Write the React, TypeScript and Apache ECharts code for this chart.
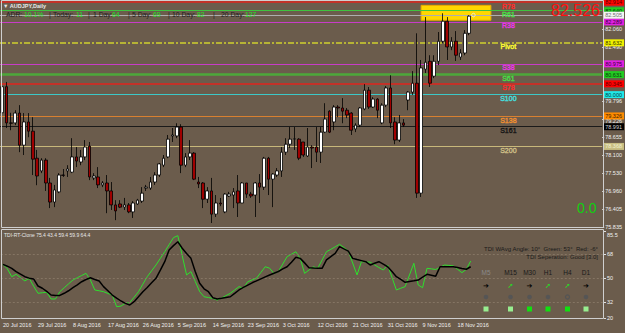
import React, { useEffect, useRef } from "react";
import * as echarts from "echarts";

const dates = [
  "20 Jul 2016","21 Jul 2016","22 Jul 2016","24 Jul 2016","25 Jul 2016","26 Jul 2016","27 Jul 2016","28 Jul 2016","29 Jul 2016","31 Jul 2016",
  "1 Aug 2016","2 Aug 2016","3 Aug 2016","4 Aug 2016","5 Aug 2016","7 Aug 2016","8 Aug 2016","9 Aug 2016","10 Aug 2016","11 Aug 2016",
  "12 Aug 2016","14 Aug 2016","15 Aug 2016","16 Aug 2016","17 Aug 2016","18 Aug 2016","19 Aug 2016","21 Aug 2016","22 Aug 2016","23 Aug 2016",
  "24 Aug 2016","25 Aug 2016","26 Aug 2016","28 Aug 2016","29 Aug 2016","30 Aug 2016","31 Aug 2016","1 Sep 2016","2 Sep 2016","4 Sep 2016",
  "5 Sep 2016","6 Sep 2016","7 Sep 2016","8 Sep 2016","9 Sep 2016","11 Sep 2016","12 Sep 2016","13 Sep 2016","14 Sep 2016","15 Sep 2016",
  "16 Sep 2016","18 Sep 2016","19 Sep 2016","20 Sep 2016","21 Sep 2016","22 Sep 2016","23 Sep 2016","25 Sep 2016","26 Sep 2016","27 Sep 2016",
  "28 Sep 2016","29 Sep 2016","30 Sep 2016","2 Oct 2016","3 Oct 2016","4 Oct 2016","5 Oct 2016","6 Oct 2016","7 Oct 2016","9 Oct 2016",
  "10 Oct 2016","11 Oct 2016","12 Oct 2016","13 Oct 2016","14 Oct 2016","16 Oct 2016","17 Oct 2016","18 Oct 2016","19 Oct 2016","20 Oct 2016",
  "21 Oct 2016","23 Oct 2016","24 Oct 2016","25 Oct 2016","26 Oct 2016","27 Oct 2016","28 Oct 2016","30 Oct 2016","31 Oct 2016","1 Nov 2016",
  "2 Nov 2016","3 Nov 2016","4 Nov 2016","6 Nov 2016","7 Nov 2016","8 Nov 2016","9 Nov 2016","10 Nov 2016","11 Nov 2016","13 Nov 2016",
  "14 Nov 2016","15 Nov 2016","16 Nov 2016","17 Nov 2016","18 Nov 2016","20 Nov 2016","21 Nov 2016","22 Nov 2016",
];

const opens = [
  79.43,80.25,79.11,79.11,79.42,78.41,79.14,78.85,78.00,77.60,
  77.94,77.22,76.62,76.94,77.47,77.60,77.56,78.04,77.88,78.04,
  78.38,77.38,77.41,77.16,77.22,76.97,76.53,76.56,76.46,76.53,
  76.31,76.56,76.65,77.06,77.06,77.25,77.47,77.78,78.04,78.70,
  78.70,78.98,77.78,78.04,78.16,77.25,77.22,76.71,76.97,76.24,
  76.59,76.31,76.81,76.84,76.97,76.59,77.22,76.87,76.84,77.22,
  77.09,78.00,77.34,77.47,77.60,78.19,78.44,78.60,78.60,78.51,
  78.07,78.35,78.35,78.19,78.82,79.48,79.14,79.61,79.58,79.51,
  79.42,78.92,79.04,79.55,80.14,79.61,79.86,79.11,79.67,80.21,
  79.14,78.57,79.11,79.83,80.08,80.36,76.90,80.80,81.05,80.58,
  81.05,81.68,82.31,81.50,81.68,81.18,81.31,81.93,
];
const closes = [
  80.25,79.11,79.10,79.42,78.41,79.14,78.85,77.97,77.44,77.94,
  77.22,76.62,77.00,77.47,77.46,77.66,78.04,77.91,78.04,78.35,
  77.41,77.44,77.16,77.22,76.97,76.53,76.34,76.46,76.53,76.31,
  76.59,76.68,76.90,77.09,77.25,77.47,77.82,78.00,78.60,78.73,
  78.98,77.78,78.04,78.16,77.34,77.19,76.71,76.97,76.24,76.59,
  76.56,76.87,76.87,76.94,76.59,77.22,76.87,76.81,77.22,77.09,
  78.00,77.34,77.50,77.60,78.19,78.44,78.60,78.61,78.00,78.10,
  78.35,78.32,78.19,78.82,79.23,78.82,79.61,79.58,79.48,79.36,
  78.88,79.04,79.58,80.14,79.61,79.86,79.51,79.67,80.21,79.11,
  78.57,79.11,79.04,80.08,80.36,76.90,80.84,81.02,80.36,81.05,
  81.68,82.31,81.50,81.68,81.24,81.31,81.93,82.47,
];
const lows = [
  79.40,78.95,78.88,79.04,78.19,78.10,78.66,77.47,77.15,77.53,
  76.97,76.43,76.46,76.90,77.41,77.41,77.53,77.72,77.78,77.94,
  77.31,77.31,77.06,77.09,76.27,76.37,76.05,76.43,76.37,76.27,
  76.12,76.53,76.59,76.97,77.00,77.16,77.41,77.72,78.00,78.51,
  78.63,77.53,77.72,77.94,77.31,77.06,76.43,76.59,75.96,76.15,
  76.49,76.27,76.78,76.43,76.15,76.59,76.75,76.75,76.15,76.59,
  77.00,76.84,76.46,77.41,77.41,78.10,78.32,78.26,77.94,78.04,
  78.04,77.69,77.88,77.85,78.79,78.79,78.88,79.29,79.10,79.26,
  78.73,78.82,78.98,79.51,79.55,79.58,79.26,79.07,79.61,78.95,
  78.44,78.51,78.98,79.51,79.99,76.75,76.78,80.68,80.24,80.52,
  80.93,81.62,81.09,81.40,81.06,81.09,81.24,81.87,
];
const highs = [
  80.30,80.40,79.43,79.51,79.67,79.42,79.42,79.29,78.26,78.00,
  78.00,77.38,77.16,77.53,77.66,77.78,78.63,78.35,78.26,78.57,
  78.51,77.53,77.72,77.28,77.47,77.25,76.68,76.68,76.75,76.59,
  76.65,76.72,77.09,77.16,77.41,77.56,77.85,78.10,78.73,78.95,
  79.10,79.07,78.16,78.57,78.19,77.41,77.25,77.09,77.38,76.84,
  76.75,76.90,76.94,77.06,77.47,77.25,77.22,76.94,77.25,77.50,
  78.04,78.04,77.53,77.69,78.35,78.63,78.98,78.98,78.63,78.51,
  78.95,78.41,78.98,78.98,79.73,79.51,79.67,79.67,79.89,79.58,
  79.45,79.10,79.61,80.33,80.24,79.92,79.89,79.73,80.27,80.61,
  79.29,79.36,79.23,80.11,80.74,81.93,81.09,82.44,81.24,81.24,
  81.97,82.56,82.44,81.81,82.00,81.43,82.03,82.50,
];

// TDI indicator: green = RSI price line, black = trade signal line
const tdiGreen = [
  60.4,57.0,51.1,52.9,50.4,47.9,49.9,44.0,38.6,39.0,
  39.4,34.3,34.3,39.8,42.8,45.7,48.6,50.3,52.0,53.6,
  48.6,41.1,40.5,39.8,38.5,37.3,28.5,29.0,31.1,31.6,
  35.7,39.8,45.5,51.1,55.5,59.9,64.9,69.9,75.2,80.5,
  82.0,67.0,52.4,54.9,47.4,39.8,36.0,35.4,34.8,33.5,
  35.0,36.8,38.6,41.1,43.6,42.5,47.3,48.7,50.0,54.3,
  58.6,57.5,53.6,55.0,60.6,66.2,68.0,69.9,64.9,53.6,
  56.1,58.6,57.4,63.6,69.9,71.7,73.6,75.5,73.0,70.4,
  61.4,52.4,62.4,62.2,62.0,60.0,58.0,56.1,59.9,50.5,
  41.1,42.4,43.6,52.4,61.2,44.8,42.8,57.4,57.0,56.5,
  58.2,59.9,59.6,59.3,56.7,54.1,56.7,62.9,
];
const tdiSignal = [
  60.4,59.0,57.4,54.9,53.0,51.1,50.0,49.4,44.1,42.4,
  40.0,37.3,37.0,37.0,38.6,40.5,42.8,45.0,47.3,49.0,
  50.3,49.0,47.8,43.6,40.5,37.3,35.0,32.8,31.0,29.8,
  32.3,36.0,39.8,43.0,46.5,49.9,56.0,62.4,71.2,74.5,
  77.4,72.5,68.5,64.9,54.9,46.1,42.0,39.8,35.3,34.3,
  34.8,35.5,36.0,38.5,41.1,43.0,44.8,46.5,48.0,49.5,
  51.0,52.4,53.7,55.0,57.0,58.6,62.0,65.7,64.9,61.5,
  57.9,57.6,57.5,57.4,63.7,66.2,68.7,73.7,72.0,70.4,
  64.9,64.0,63.2,62.4,59.9,61.2,62.4,60.5,58.6,55.0,
  51.1,49.0,46.9,47.5,48.0,48.6,50.7,52.9,52.2,51.5,
  58.6,58.6,58.6,58.6,58.0,57.3,56.7,58.6,
];

const levelNames = ["R78", "R61", "R38", "Pivot", "S38", "S61", "S78", "S100", "S138", "S161", "S200"];
const levelValues = [82.914, 82.64, 82.289, 81.632, 80.975, 80.631, 80.345, 80.0, 79.326, 78.991, 78.368];
const bidPrice = 82.505;
const priceTicks = [75.835, 76.405, 76.96, 77.53, 78.1, 78.655, 79.226, 79.796, 81.49, 82.06];
const tdiTicks = [20, 32, 50, 68, 85.5];
const tdiLevels = [68, 50, 32];

const levelStyles = [
  { line: "#E0241C", text: "#FF2A2A", box: "#FF0000", boxText: "#600000", width: 1.5, type: "solid" },
  { line: "#3EC43E", text: "#44E044", box: "#22CC22", boxText: "#0A3A0A", width: 1, type: "solid" },
  { line: "#C83CC8", text: "#E838E8", box: "#E020E0", boxText: "#3A003A", width: 1, type: "solid" },
  { line: "#CFCF2E", text: "#FFFF30", box: "#F0F000", boxText: "#333300", width: 1.5, type: [6, 2, 2, 2] },
  { line: "#C83CC8", text: "#E838E8", box: "#E020E0", boxText: "#3A003A", width: 1, type: "solid" },
  { line: "#4CA83A", text: "#44E044", box: "#22CC22", boxText: "#0A3A0A", width: 2.5, type: "solid" },
  { line: "#E0241C", text: "#FF2A2A", box: "#FF0000", boxText: "#600000", width: 1.5, type: "solid" },
  { line: "#3CC8C8", text: "#44E0E0", box: "#20E8E8", boxText: "#004040", width: 1, type: "solid" },
  { line: "#D88030", text: "#F09030", box: "#FF8C00", boxText: "#402000", width: 1, type: "solid" },
  { line: "#1A1A1A", text: "#141414", box: "#000000", boxText: "#D0D0D0", width: 1, type: "solid" },
  { line: "#C8B87A", text: "#D0C088", box: "#C8BE82", boxText: "#F0F0D0", width: 1, type: "solid" },
];

const BG = "#6B5C4C";
const SLOTS = 138;
const NAME_SLOT = 116;
const FONT = "Liberation Sans, Arial, sans-serif";

const categories = [...dates, ...Array(SLOTS - dates.length).fill("")];

function buildOption() {
  const candleData = opens.map((o, i) => [o, closes[i], lows[i], highs[i]]);
  const boxLabel = (text: string, bg: string, fg: string) => ({
    show: true,
    position: "end",
    distance: 1,
    formatter: text,
    backgroundColor: bg,
    color: fg,
    fontSize: 5.5,
    fontFamily: FONT,
    padding: [1, 2, 0, 2],
  });
  const markLines: any[] = levelValues.map((v, i) => ({
    yAxis: v,
    lineStyle: { color: levelStyles[i].line, width: levelStyles[i].width, type: levelStyles[i].type },
    label: boxLabel(v.toFixed(3), levelStyles[i].box, levelStyles[i].boxText),
  }));
  markLines.push({
    yAxis: bidPrice,
    lineStyle: { color: "#AEAEAE", width: 1, type: "solid" },
    label: boxLabel(bidPrice.toFixed(3), "#F4F4F4", "#707070"),
  });

  const adr: [number, string, boolean][] = [
    [6, "ADR:", false], [24, "10.1%", true], [49, "|", false], [53, "Today:", false], [76, "11", true],
    [88, "|", false], [93, "1 Day:", false], [112, "64", true], [128, "|", false], [132, "5 Day:", false],
    [153, "69", true], [168, "|", false], [172, "10 Day:", false], [197, "82", true], [213, "|", false],
    [221, "20 Day:", false], [245, "127", true],
  ];

  const tf = ["M5", "M15", "M30", "H1", "H4", "D1"];
  const tfX = [486, 510.5, 529.5, 548, 567.5, 586];
  const tfArrowUp = [false, true, false, true, true, false];
  const tfSquare = ["#98EE90", "#98EE90", "#10E010", "#10E010", "#10E010", "#98EE90"];

  const graphic: any[] = [
    { type: "rect", shape: { x: 1.5, y: 0.5, width: 602, height: 227 }, style: { fill: "none", stroke: "#CFCFCF", lineWidth: 1 }, z: 50 },
    { type: "rect", shape: { x: 1.5, y: 229.5, width: 602, height: 89 }, style: { fill: "none", stroke: "#CFCFCF", lineWidth: 1 }, z: 50 },
    { type: "text", x: 3, y: 3, style: { text: "▼ AUDJPY,Daily", fill: "#E8E8E8", font: `bold 5.5px ${FONT}` }, z: 60 },
    ...adr.map(([x, t, g]) => ({
      type: "text", x, y: 10.5, z: 60,
      style: { text: t, fill: g ? "#22E022" : "#1E1E1E", font: `6.8px ${FONT}` },
    })),
    { type: "text", x: 600, y: 2, style: { text: "82.526", fill: "#FF1010", font: `16px ${FONT}`, align: "right" }, z: 60 },
    { type: "text", x: 577, y: 201, style: { text: "0.0", fill: "#10D010", font: `14px ${FONT}` }, z: 60 },
    { type: "text", x: 4, y: 232, style: { text: "TDI-RT-Clone 75.4 43.4 59.4 59.9 64.4", fill: "#E8E8E8", font: `5px ${FONT}` }, z: 60 },
    { type: "text", x: 598, y: 246, style: { text: "TDI WAvg Angle: 10°  Green: 53°  Red: -6°", fill: "#1A1A1A", font: `6px ${FONT}`, align: "right" }, z: 60 },
    { type: "text", x: 598, y: 254, style: { text: "TDI Seperation: Good [3.0]", fill: "#1A1A1A", font: `6px ${FONT}`, align: "right" }, z: 60 },
  ];
  tf.forEach((name, i) => {
    const x = tfX[i];
    graphic.push({ type: "text", x, y: 269, z: 60, style: { text: name, fill: i === 0 ? "#8A8A8A" : "#1A1A1A", font: `6.5px ${FONT}`, align: "center" } });
    graphic.push({ type: "text", x, y: 282, z: 60, style: { text: tfArrowUp[i] ? "➚" : "➔", fill: tfArrowUp[i] ? "#22E022" : "#000000", font: `bold 7px DejaVu Sans`, align: "center" } });
    graphic.push(i === 4
      ? { type: "circle", shape: { cx: x, cy: 297, r: 2 }, style: { fill: "none", stroke: "#555555", lineWidth: 1.3 }, z: 60 }
      : { type: "circle", shape: { cx: x, cy: 297, r: 2.3 }, style: { fill: "#555555" }, z: 60 });
    graphic.push({ type: "rect", shape: { x: x - 2.5, y: 306.5, width: 5, height: 5 }, style: { fill: tfSquare[i] }, z: 60 });
  });

  return {
    animation: false,
    backgroundColor: BG,
    graphic,
    grid: [
      { left: 0, top: 2, width: 604, height: 225 },
      { left: 0, top: 231, width: 604, height: 87 },
    ],
    xAxis: [
      { gridIndex: 0, type: "category", data: categories, boundaryGap: true, axisLine: { show: false }, axisTick: { show: false }, axisLabel: { show: false }, splitLine: { show: false } },
      {
        gridIndex: 1, type: "category", data: categories, boundaryGap: true,
        axisLine: { show: false }, axisTick: { show: false }, splitLine: { show: false },
        axisLabel: {
          interval: (idx: number) => idx % 8 === 0 && idx < dates.length,
          align: "left", color: "#F0F0F0", fontSize: 5.5, fontFamily: FONT, margin: 4,
          formatter: (v: string) => v,
        },
      },
    ],
    yAxis: [
      {
        gridIndex: 0, type: "value", position: "right", min: 75.835, max: 82.915,
        splitLine: { show: false }, axisLine: { show: false },
        axisTick: { show: true, length: 2, customValues: priceTicks, lineStyle: { color: "#E0E0E0" } },
        axisLabel: {
          customValues: priceTicks, color: "#F0F0F0", fontSize: 5.5, fontFamily: FONT, margin: 3,
          formatter: (v: number) => (v === 79.226 ? `{d|${v.toFixed(3)}}` : v.toFixed(3)),
          rich: { d: { fontSize: 5.5, fontFamily: FONT, color: "#F0F0F0", padding: [4, 0, 0, 0] } },
        },
      },
      {
        gridIndex: 1, type: "value", position: "right", min: 20, max: 85.5,
        splitLine: { show: false }, axisLine: { show: false },
        axisTick: { show: true, length: 2, customValues: tdiTicks, lineStyle: { color: "#E0E0E0" } },
        axisLabel: {
          customValues: tdiTicks, color: "#F0F0F0", fontSize: 5.5, fontFamily: FONT, margin: 3,
          formatter: (v: number) => (v === 85.5 ? `{t|${v}}` : String(v)),
          rich: { t: { fontSize: 5.5, fontFamily: FONT, color: "#F0F0F0", padding: [8, 0, 0, 0] } },
        },
      },
    ],
    series: [
      {
        type: "candlestick",
        xAxisIndex: 0, yAxisIndex: 0,
        data: candleData,
        barWidth: 3.2,
        itemStyle: { color: "#FFFFFF", color0: "#A00000", borderColor: "#000000", borderColor0: "#000000", borderWidth: 0.8 },
        markLine: { silent: true, symbol: "none", data: markLines, z: 3 },
        markArea: {
          silent: true,
          itemStyle: { color: "#FFD700", borderColor: "#E8A800", borderWidth: 1 },
          data: [[{ xAxis: 95.5, yAxis: 82.81 }, { xAxis: 111.5, yAxis: 82.34 }]],
        },
        z: 5,
      },
      {
        type: "scatter",
        xAxisIndex: 0, yAxisIndex: 0,
        symbolSize: 1,
        itemStyle: { opacity: 0 },
        data: levelValues.map((v, i) => ({
          value: [NAME_SLOT, v],
          label: { color: levelStyles[i].text, textBorderColor: levelStyles[i].text, textBorderWidth: 0.35 },
        })),
        label: {
          show: true, position: "bottom", distance: 0, opacity: 1,
          formatter: (p: any) => levelNames[p.dataIndex],
          fontSize: 7, fontFamily: FONT,
        },
        z: 10,
      },
      {
        type: "scatter",
        xAxisIndex: 0, yAxisIndex: 0,
        symbol: "circle", symbolSize: 3.5,
        itemStyle: { color: "none", borderColor: "#F0F0F0", borderWidth: 1 },
        data: [[dates.length, bidPrice]],
        z: 10,
      },
      {
        type: "line", xAxisIndex: 1, yAxisIndex: 1, data: tdiGreen, showSymbol: false,
        lineStyle: { color: "#2EE02E", width: 1 },
        markLine: {
          silent: true, symbol: "none", label: { show: false },
          lineStyle: { color: "#857564", type: [2, 2], width: 1 },
          data: tdiLevels.map((v) => ({ yAxis: v })),
        },
        z: 4,
      },
      {
        type: "line", xAxisIndex: 1, yAxisIndex: 1, data: tdiSignal, showSymbol: false,
        lineStyle: { color: "#000000", width: 1.5 },
        z: 5,
      },
    ],
  };
}

export default function App() {
  const ref = useRef<HTMLDivElement>(null);
  useEffect(() => {
    if (!ref.current) return;
    const chart = echarts.init(ref.current, null, { renderer: "svg" });
    chart.setOption(buildOption() as any);
    return () => chart.dispose();
  }, []);
  return <div ref={ref} style={{ position: "absolute", left: 0, top: 0, width: 625, height: 333 }} />;
}
